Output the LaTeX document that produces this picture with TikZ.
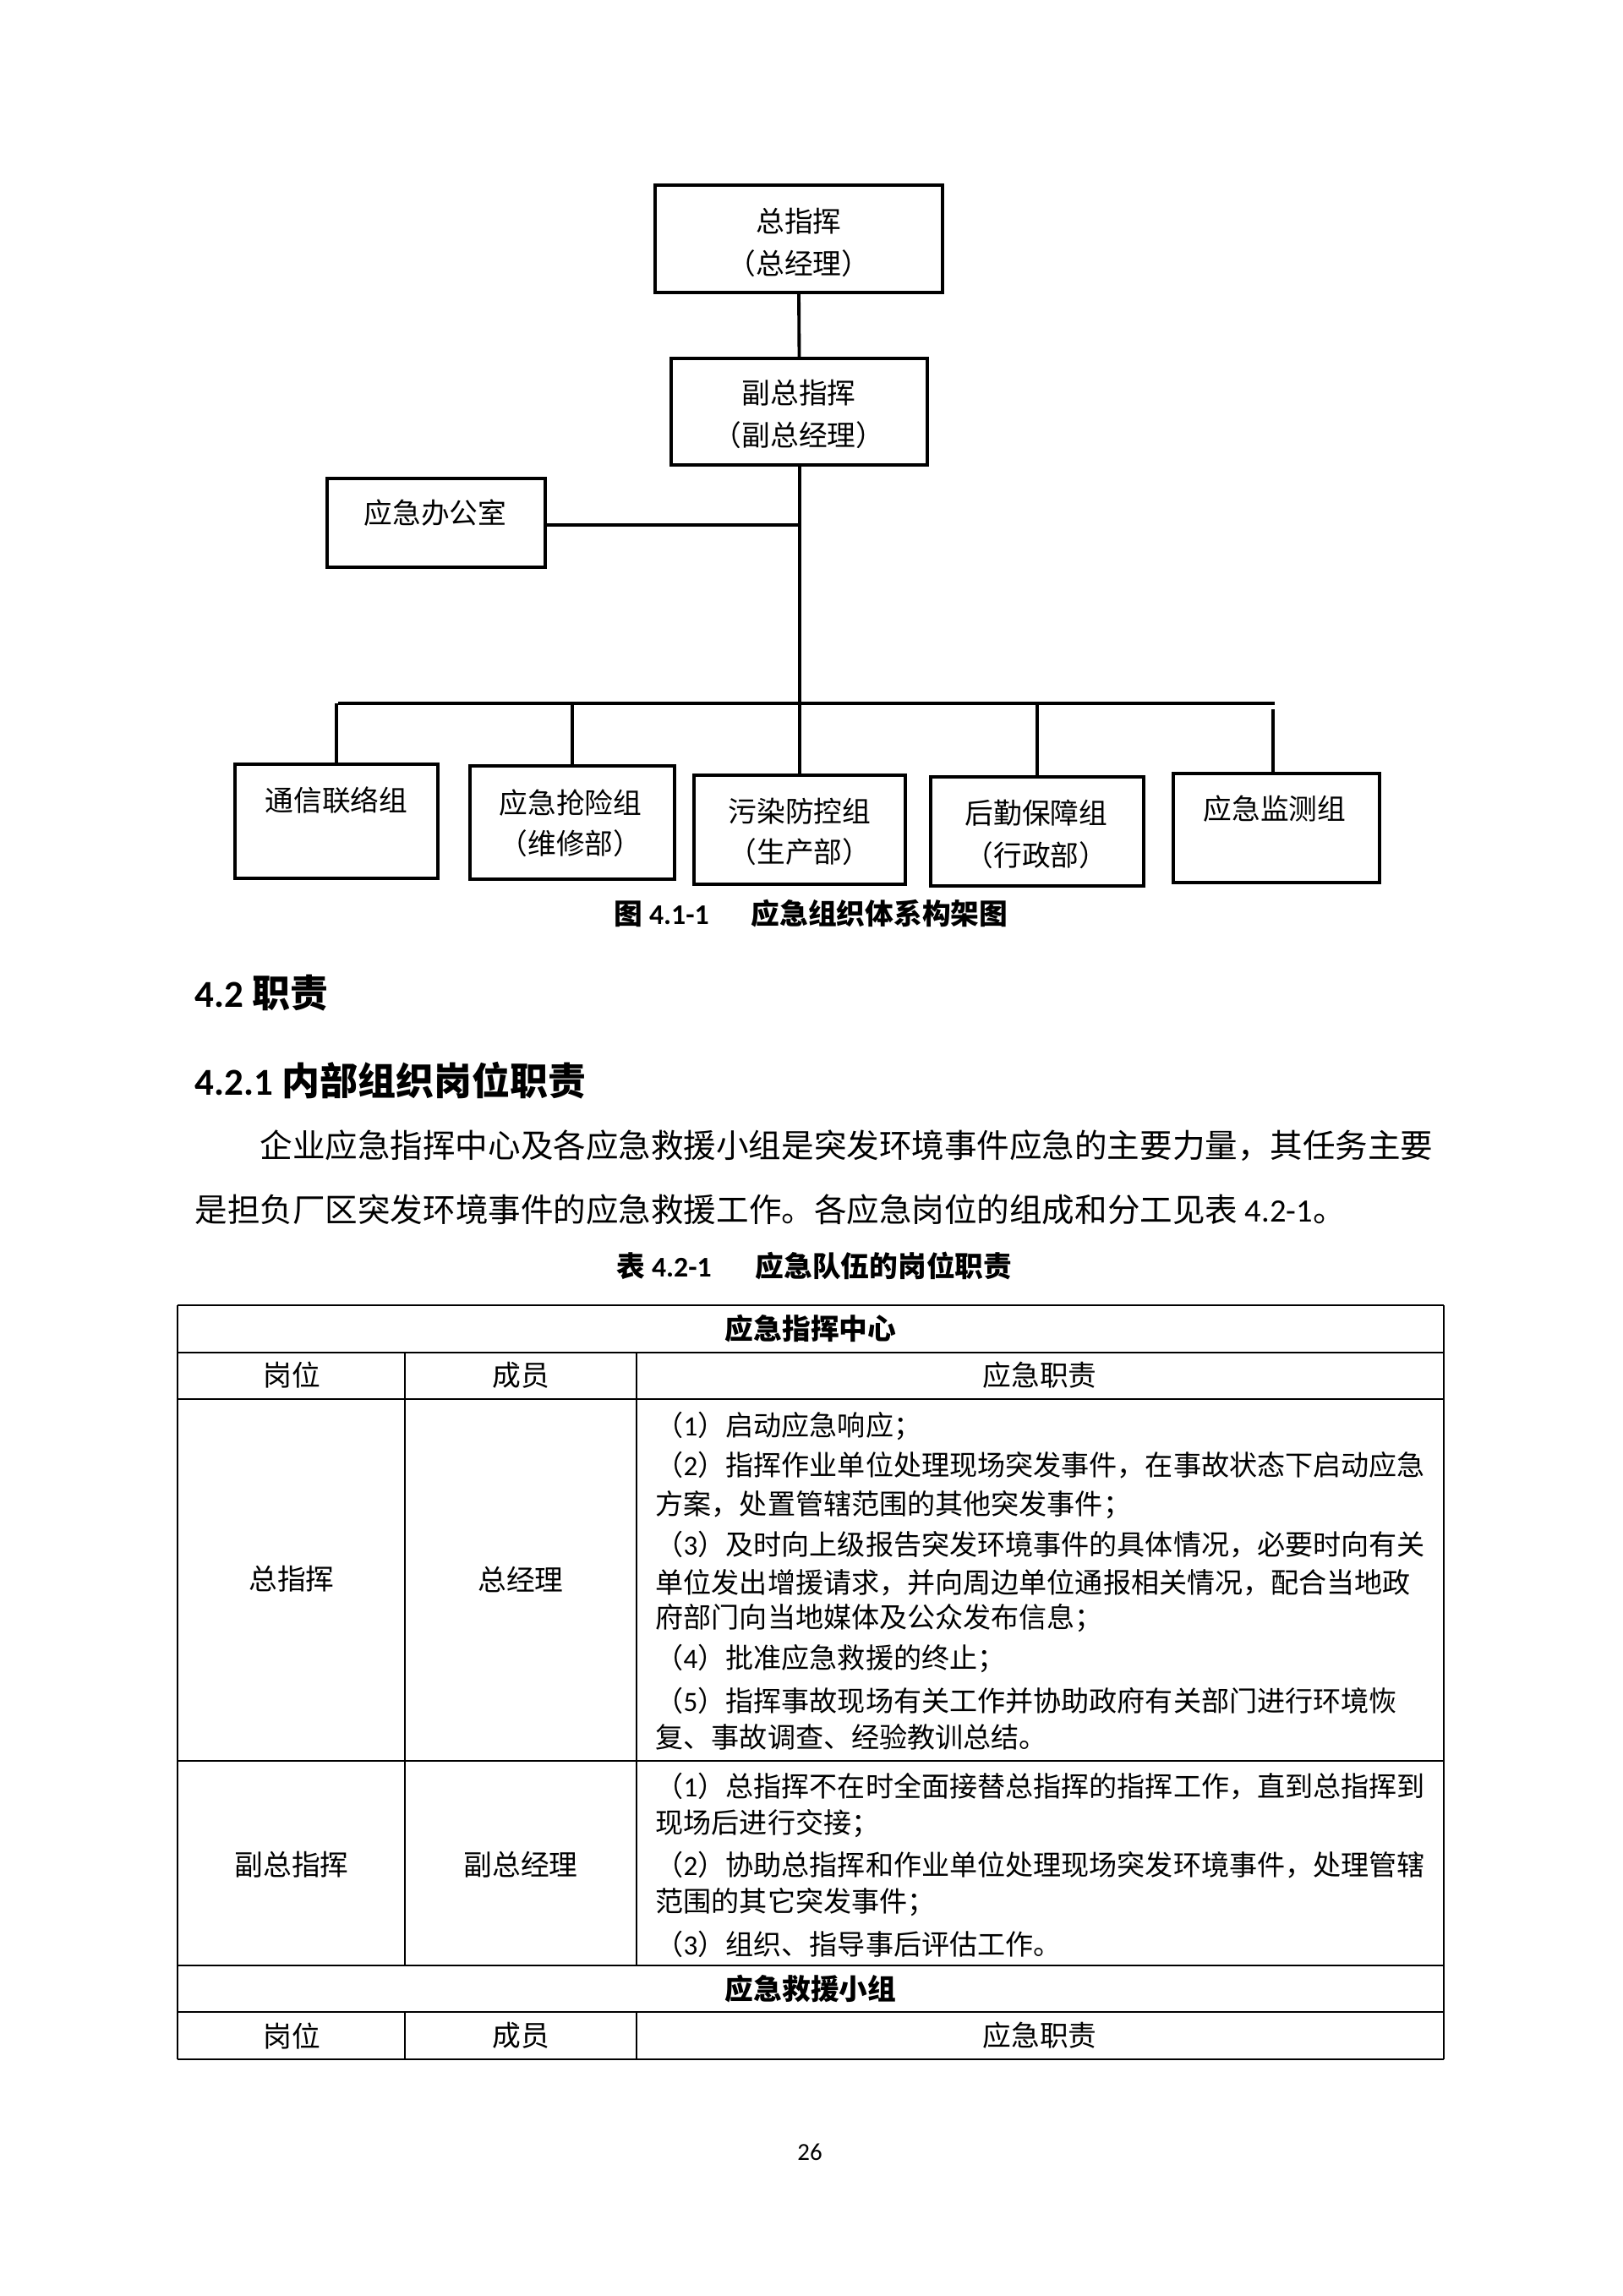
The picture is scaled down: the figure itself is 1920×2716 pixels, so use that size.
\documentclass[tikz,border=0pt]{standalone}
\usepackage{fontspec}
\setmainfont{Noto Sans CJK SC}
\newfontfamily\lat{Carlito}
\XeTeXlinebreaklocale "zh"
\XeTeXlinebreakskip=0pt plus 2pt minus 0.6pt
\newcommand\pu{0.0109375cm}
\newcommand\fwu{\fontsize{10.5pt}{13pt}\selectfont}
\newcommand\ftb{\fontsize{10.3pt}{13pt}\selectfont}
\newcommand\fxs{\fontsize{12pt}{15pt}\selectfont}
\newcommand\fsh{\fontsize{14pt}{17pt}\selectfont}
\newcommand\fxw{\fontsize{9pt}{11pt}\selectfont}
\newlength\jw \setlength\jw{9.964cm}
\newlength\bw \setlength\bw{15.15cm}
\newcommand\jl[1]{\makebox[\jw][s]{#1}}
\begin{document}
\begin{tikzpicture}[x=0.0109375cm, y=-0.0109375cm,
  box/.style={draw, line width=1.3pt, inner sep=0pt},
  link/.style={line width=1.2pt},
  drop/.style={line width=1.0pt},
  lbl/.style={inner sep=0pt, font=\fwu},
  captxt/.style={inner sep=0pt, anchor=west, font=\fwu\bfseries},
  tl/.style={inner sep=0pt, anchor=west, font=\ftb},
  headtxt/.style={inner sep=0pt, anchor=west, font=\fsh\bfseries},
  bodytxt/.style={inner sep=0pt, anchor=west, font=\fxs},
  hrule/.style={line width=0.8pt},
  vrule/.style={line width=0.6pt},
]
\fill[white] (0,0) rectangle (1920,2716);
\useasboundingbox (0,0) rectangle (1920,2716);

% ---------- org chart ----------
\node[box, minimum width=340*\pu, minimum height=127*\pu] (top) at (945,282.5) {};
\node[lbl] (topa) at (945,262) {总指挥};
\node[lbl] (topb) at (945,312) {（总经理）};
\node[box, minimum width=303*\pu, minimum height=126*\pu] (sub) at (945.5,487) {};
\node[lbl] (suba) at (945,465) {副总指挥};
\node[lbl] (subb) at (945,515) {（副总经理）};
\node[box, minimum width=258*\pu, minimum height=105*\pu] (off) at (516,618.5) {};
\node[lbl] (offa) at (515,607) {应急办公室};

\node[box, minimum width=240*\pu, minimum height=135*\pu] (g1) at (398,971.5) {};
\node[lbl] (g1a) at (398,947) {通信联络组};
\node[box, minimum width=242*\pu, minimum height=134*\pu] (g2) at (677,973) {};
\node[lbl] (g2a) at (675,950) {应急抢险组};
\node[lbl] (g2b) at (675,998) {（维修部）};
\node[box, minimum width=250*\pu, minimum height=129*\pu] (g3) at (946,981.5) {};
\node[lbl] (g3a) at (946,960) {污染防控组};
\node[lbl] (g3b) at (946,1008) {（生产部）};
\node[box, minimum width=252*\pu, minimum height=129*\pu] (g4) at (1227,983.5) {};
\node[lbl] (g4a) at (1226,962) {后勤保障组};
\node[lbl] (g4b) at (1226,1012) {（行政部）};
\node[box, minimum width=244*\pu, minimum height=129*\pu] (g5) at (1510,979.5) {};
\node[lbl] (g5a) at (1508,957) {应急监测组};

\coordinate (j) at (946,621);
\coordinate (bus) at (946,832);
\coordinate (busL) at (400,832);
\coordinate (busR) at (1508,832);
\coordinate (g5top) at (1506,839);
\draw[link] (top.south) -- (sub.north);
\draw[link] (sub.south -| bus) -- (g3.north -| bus);
\draw[link] (off.east |- j) -- (j);
\draw[link] (busL) -- (busR);
\draw[drop] (g1.north |- bus) -- (g1.north);
\draw[drop] (g2.north |- bus) -- (g2.north);
\draw[drop] (g4.north |- bus) -- (g4.north);
\draw[drop] (g5top) -- (g5.north -| g5top);

\node[captxt] (figcapA) at (726,1081) {图 {\lat 4.1-1}};
\node[captxt] (figcapB) at (888,1081) {应急组织体系构架图};

% ---------- headings and paragraph ----------
\node[headtxt] (h42) at (230,1175) {{\lat 4.2} 职责};
\node[headtxt] (h421) at (230,1278) {{\lat 4.2.1} 内部组织岗位职责};
\node[bodytxt] (p1) at (307,1355) {\makebox[\bw][s]{企业应急指挥中心及各应急救援小组是突发环境事件应急的主要力量，其任务主要}};
\node[bodytxt] (p2) at (230,1431) {是担负厂区突发环境事件的应急救援工作。各应急岗位的组成和分工见表 {\lat 4.2-1}。};

\node[captxt] (tcapA) at (729,1498) {表 {\lat 4.2-1}};
\node[captxt] (tcapB) at (893,1498) {应急队伍的岗位职责};

% ---------- table ----------
\draw[hrule] (210,1544) -- (1708,1544);
\draw[hrule] (210,1600) -- (1708,1600);
\draw[hrule] (210,1655) -- (1708,1655);
\draw[hrule] (210,2083) -- (1708,2083);
\draw[hrule] (210,2325) -- (1708,2325);
\draw[hrule] (210,2380) -- (1708,2380);
\draw[hrule] (210,2436) -- (1708,2436);
\draw[vrule] (210,1544) -- (210,2436);
\draw[vrule] (1708,1544) -- (1708,2436);
\draw[vrule] (479,1600) -- (479,2325);
\draw[vrule] (753,1600) -- (753,2325);
\draw[vrule] (479,2380) -- (479,2436);
\draw[vrule] (753,2380) -- (753,2436);

\node[lbl, font=\fwu\bfseries] (t1) at (959,1572) {应急指挥中心};
\node[lbl] (t1a) at (345,1627) {岗位};
\node[lbl] (t1b) at (616,1627) {成员};
\node[lbl] (t1c) at (1230,1627) {应急职责};

\node[lbl] (r1a) at (345,1868) {总指挥};
\node[lbl] (r1b) at (616,1868) {总经理};
\node[tl] (r1l1) at (775,1687) {（{\lat 1}）启动应急响应；};
\node[tl] (r1l2) at (775,1733) {\jl{（{\lat 2}）指挥作业单位处理现场突发事件，在事故状态下启动应急}};
\node[tl] (r1l3) at (775,1780) {方案，处置管辖范围的其他突发事件；};
\node[tl] (r1l4) at (775,1827) {\jl{（{\lat 3}）及时向上级报告突发环境事件的具体情况，必要时向有关}};
\node[tl] (r1l5) at (775,1872) {\jl{单位发出增援请求，并向周边单位通报相关情况，配合当地政}};
\node[tl] (r1l6) at (775,1914) {府部门向当地媒体及公众发布信息；};
\node[tl] (r1l7) at (775,1962) {（{\lat 4}）批准应急救援的终止；};
\node[tl] (r1l8) at (775,2012) {\makebox[9.75cm][s]{（{\lat 5}）指挥事故现场有关工作并协助政府有关部门进行环境恢}};
\node[tl] (r1l9) at (775,2055) {复、事故调查、经验教训总结。};

\node[lbl] (r2a) at (345,2206) {副总指挥};
\node[lbl] (r2b) at (616,2206) {副总经理};
\node[tl] (r2l1) at (775,2113) {\jl{（{\lat 1}）总指挥不在时全面接替总指挥的指挥工作，直到总指挥到}};
\node[tl] (r2l2) at (775,2157) {现场后进行交接；};
\node[tl] (r2l3) at (775,2206) {\jl{（{\lat 2}）协助总指挥和作业单位处理现场突发环境事件，处理管辖}};
\node[tl] (r2l4) at (775,2250) {范围的其它突发事件；};
\node[tl] (r2l5) at (775,2300) {（{\lat 3}）组织、指导事后评估工作。};

\node[lbl, font=\fwu\bfseries] (t2) at (959,2353) {应急救援小组};
\node[lbl] (t2a) at (345,2408) {岗位};
\node[lbl] (t2b) at (616,2408) {成员};
\node[lbl] (t2c) at (1230,2408) {应急职责};

\node[inner sep=0pt, font=\fxw\lat] (pg) at (958,2546) {26};
\end{tikzpicture}
\end{document}
